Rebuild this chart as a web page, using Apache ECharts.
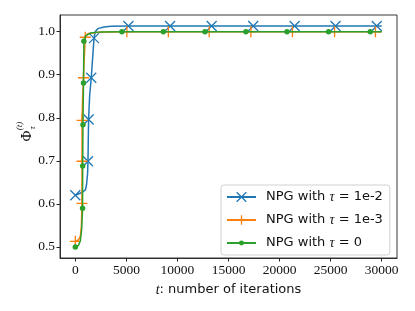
<!DOCTYPE html>
<html><head><meta charset="utf-8">
<script src="https://cdn.jsdelivr.net/npm/echarts@6/dist/echarts.min.js"></script>
<style>html,body{margin:0;padding:0;background:#fff}#c{width:415px;height:311px}</style>
</head><body><div id="c"></div>
<script>
// ---- data ----
const seriesNames = ['NPG with τ = 1e-2', 'NPG with τ = 1e-3', 'NPG with τ = 0'];
const tauLabels = ['1e-2', '1e-3', '0'];
const blueX = [0, 300, 700, 1000, 1100, 1200, 1240, 1270, 1300, 1400, 1560, 1700, 1830, 1950, 2200, 2800, 3500, 5200, 9280, 13350, 17420, 21480, 25480, 29520, 30000];
const blueY = [0.620, 0.623, 0.627, 0.633, 0.645, 0.670, 0.699, 0.750, 0.796, 0.850, 0.893, 0.940, 0.985, 1.000, 1.007, 1.011, 1.0125, 1.013, 1.013, 1.013, 1.013, 1.013, 1.013, 1.013, 1.013];
const blueMark = [1, 0, 0, 0, 0, 0, 1, 0, 1, 0, 1, 0, 1, 0, 0, 0, 0, 1, 1, 1, 1, 1, 1, 1, 0];
const orangeX = [0, 300, 500, 600, 650, 655, 660, 720, 800, 880, 970, 1200, 2000, 3000, 5050, 9110, 13110, 17190, 21260, 25390, 29390, 30000];
const orangeY = [0.513, 0.516, 0.525, 0.550, 0.601, 0.699, 0.794, 0.850, 0.893, 0.940, 0.987, 0.995, 0.998, 0.9995, 1.000, 1.000, 1.000, 1.000, 1.000, 1.000, 1.000, 1.000];
const orangeMark = [1, 0, 0, 0, 1, 1, 1, 0, 1, 0, 1, 0, 0, 0, 1, 1, 1, 1, 1, 1, 1, 0];
const greenX = [0, 300, 500, 620, 710, 720, 750, 800, 840, 1000, 1500, 2500, 4560, 8620, 12700, 16700, 20730, 24800, 28880, 30000];
const greenY = [0.500, 0.503, 0.515, 0.540, 0.590, 0.688, 0.784, 0.881, 0.978, 0.990, 0.997, 0.9995, 1.000, 1.000, 1.000, 1.000, 1.000, 1.000, 1.000, 1.000];
const greenMark = [1, 0, 0, 0, 1, 1, 1, 1, 1, 0, 0, 0, 1, 1, 1, 1, 1, 1, 1, 0];
const xTicks = [0, 5000, 10000, 15000, 20000, 25000, 30000];
const yTicks = [0.5, 0.6, 0.7, 0.8, 0.9, 1.0];

const colors = ['#1f77b4', '#ff7f0e', '#2ca02c'];
// green dot: small circle inside a padded 10x10 box so the legend icon stays small
const symbols = ['path://M0,0L10,10M10,0L0,10', 'path://M5,0L5,10M0,5L10,5',
  'path://M0,0M10,10M2.4,5A2.6,2.6,0,1,0,7.6,5A2.6,2.6,0,1,0,2.4,5Z'];
const symSizes = [10, 11, 10.5];

function build(xs, ys, marks) {
  return xs.map((x, i) => marks[i] ? [x, ys[i]] : {value: [x, ys[i]], symbol: 'none'});
}
const allData = [build(blueX, blueY, blueMark), build(orangeX, orangeY, orangeMark), build(greenX, greenY, greenMark)];

const serif = '"Liberation Serif", "DejaVu Serif", serif';
const sans = '"DejaVu Sans", sans-serif';

const itemStyles = [
  {color: colors[0], borderColor: colors[0], borderWidth: 1.3},
  {color: colors[1], borderColor: colors[1], borderWidth: 1.3},
  {color: colors[2], borderWidth: 0}
];

const chart = echarts.init(document.getElementById('c'), null, {renderer: 'canvas'});
const series = allData.map((d, i) => ({
  name: seriesNames[i],
  type: 'line',
  data: d,
  showAllSymbol: true,
  symbol: symbols[i],
  symbolSize: symSizes[i],
  animation: false,
  lineStyle: {color: colors[i], width: 1.5},
  itemStyle: itemStyles[i],
  emphasis: {disabled: true},
  z: 2 + i
}));

chart.setOption({
  animation: false,
  grid: {left: 60, right: 18, top: 15, bottom: 53, show: true, borderColor: '#222', borderWidth: 0.9, backgroundColor: 'transparent'},
  xAxis: {
    type: 'value', min: -1500, max: 31500,
    axisLine: {show: true, onZero: false, lineStyle: {color: '#222', width: 0.9}},
    axisTick: {show: true, length: 3.5, lineStyle: {color: '#222'}, customValues: xTicks},
    axisLabel: {customValues: xTicks, color: '#111', fontFamily: serif, fontSize: 13.5, margin: 5, formatter: v => String(Math.round(v))},
    splitLine: {show: false},
    name: '{i|t}: number of iterations', nameLocation: 'middle', nameGap: 25,
    nameTextStyle: {fontFamily: sans, fontSize: 13, color: '#111', rich: {i: {fontFamily: serif, fontStyle: 'italic', fontSize: 14, color: '#111'}}}
  },
  yAxis: {
    type: 'value', min: 0.4743, max: 1.0387,
    axisLine: {show: true, onZero: false, lineStyle: {color: '#222', width: 0.9}},
    axisTick: {show: true, length: 3.5, lineStyle: {color: '#222'}, customValues: yTicks},
    axisLabel: {customValues: yTicks, color: '#111', fontFamily: serif, fontSize: 13.5, margin: 5, formatter: v => v.toFixed(1)},
    splitLine: {show: false}
  },
  legend: {
    orient: 'vertical', left: 221, top: 185,
    padding: [5, 7, 5, 5], itemGap: 9, itemWidth: 29, itemHeight: 12,
    backgroundColor: 'rgba(255,255,255,0.85)', borderColor: '#d0d0d0', borderWidth: 1, borderRadius: 3,
    formatter: name => {
      const k = seriesNames.indexOf(name);
      return 'NPG with {t|τ} = ' + tauLabels[k];
    },
    textStyle: {fontFamily: sans, fontSize: 13, color: '#111', padding: [0, 0, 0, 5],
      rich: {t: {fontFamily: serif, fontStyle: 'italic', fontSize: 14, color: '#111'}}},
    data: seriesNames.map((n, i) => ({name: n, itemStyle: itemStyles[i]}))
  },
  graphic: [{
    type: 'group', x: 27, y: 136, rotation: Math.PI / 2,
    children: [
      {type: 'text', x: 0, y: 0, style: {text: 'Φ', fontFamily: serif, fontSize: 15, fill: '#111', textAlign: 'center', textVerticalAlign: 'middle'}},
      {type: 'text', x: 10, y: -7, style: {text: '(t)', fontFamily: serif, fontStyle: 'italic', fontSize: 9, fill: '#111', textAlign: 'center', textVerticalAlign: 'middle'}},
      {type: 'text', x: 8, y: 6, style: {text: 'τ', fontFamily: serif, fontStyle: 'italic', fontSize: 9, fill: '#111', textAlign: 'center', textVerticalAlign: 'middle'}}
    ]
  }],
  series: series
});
</script></body></html>
